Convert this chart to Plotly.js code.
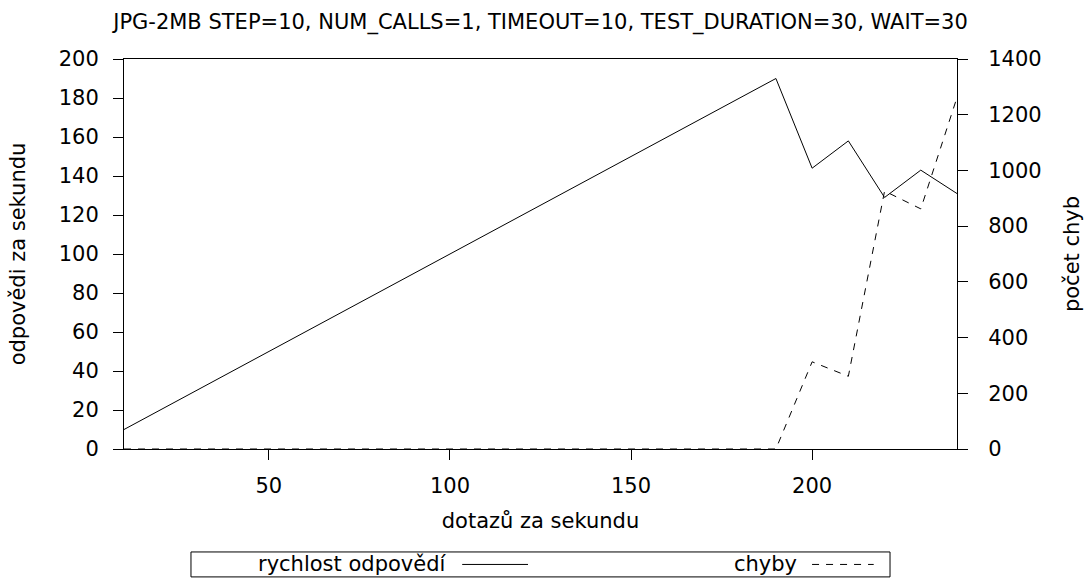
<!DOCTYPE html>
<html>
<head>
<meta charset="utf-8">
<script src="https://cdn.plot.ly/plotly-3.0.1.min.js"></script>
<style>html,body{margin:0;padding:0;background:#fff;}#chart{width:1089px;height:578px;}</style>
</head>
<body>
<div id="chart"></div>
<script>
// Data
const dotazy = [10,20,30,40,50,60,70,80,90,100,110,120,130,140,150,160,170,180,190,200,210,220,230,240];
const rychlost = [10,20,30,40,50,60,70,80,90,100,110,120,130,140,150,160,170,180,190,144,158,129,143,131];
const chyby = [0,0,0,0,0,0,0,0,0,0,0,0,0,0,0,0,0,0,0,313,261,926,862,1262];
const xTicks = [50,100,150,200];
const yTicks = [0,20,40,60,80,100,120,140,160,180,200];
const y2Ticks = [0,200,400,600,800,1000,1200,1400];
const seriesNames = ['rychlost odpovědí','chyby'];
const titleText = 'JPG-2MB STEP=10, NUM_CALLS=1, TIMEOUT=10, TEST_DURATION=30, WAIT=30';

const FONT = 'DejaVu Sans, sans-serif';
const FS = 21;
const DASH = '7px,7px';
const traces = [
  {x: dotazy, y: rychlost, name: seriesNames[0], type: 'scatter', mode: 'lines',
   line: {color: '#000', width: 1}, yaxis: 'y'},
  {x: dotazy, y: chyby, name: seriesNames[1], type: 'scatter', mode: 'lines',
   line: {color: '#000', width: 1, dash: DASH}, yaxis: 'y2'}
];

// legend box geometry (paper coords)
const lgY0 = -0.328, lgY1 = -0.264, lgYm = (lgY0 + lgY1) / 2;

const layout = {
  width: 1089, height: 578,
  margin: {l: 124, r: 132, t: 59, b: 129},
  paper_bgcolor: '#fff', plot_bgcolor: '#fff',
  font: {family: FONT, size: FS, color: '#000'},
  showlegend: false,
  title: {text: titleText, font: {family: FONT, size: FS, color: '#000'}, x: 0.5, xref: 'paper', y: 0.962, yanchor: 'middle'},
  xaxis: {
    range: [10, 240], tickvals: xTicks, ticks: 'outside', ticklen: 10, tickcolor: '#000',
    showline: true, linecolor: '#000', linewidth: 1, mirror: true, showgrid: false, zeroline: false,
    ticklabelstandoff: 8,
    title: {text: 'dotazů za sekundu', font: {family: FONT, size: FS}, standoff: 16}
  },
  yaxis: {
    range: [0, 200], tickvals: yTicks, ticks: 'outside', ticklen: 10, tickcolor: '#000',
    showline: true, linecolor: '#000', linewidth: 1, showgrid: false, zeroline: false,
    ticklabelstandoff: 10,
    title: {text: 'odpovědi za sekundu', font: {family: FONT, size: FS}, standoff: 27}
  },
  yaxis2: {
    range: [0, 1400], tickvals: y2Ticks, ticks: 'outside', ticklen: 10, tickcolor: '#000',
    overlaying: 'y', side: 'right',
    showline: true, linecolor: '#000', linewidth: 1, showgrid: false, zeroline: false,
    ticklabelstandoff: 16,
    title: {text: 'počet chyb', font: {family: FONT, size: FS}, standoff: 23}
  },
  shapes: [
    {type: 'rect', xref: 'paper', yref: 'paper', x0: 0.0804, x1: 0.9196, y0: lgY0, y1: lgY1,
     line: {color: '#000', width: 1}, fillcolor: 'rgba(0,0,0,0)'},
    {type: 'line', xref: 'paper', yref: 'paper', x0: 0.406, x1: 0.485, y0: lgYm, y1: lgYm,
     line: {color: '#000', width: 1}},
    {type: 'line', xref: 'paper', yref: 'paper', x0: 0.826, x1: 0.900, y0: lgYm, y1: lgYm,
     line: {color: '#000', width: 1, dash: DASH}}
  ],
  annotations: [
    {text: seriesNames[0], xref: 'paper', yref: 'paper', x: 0.389, y: lgYm, xanchor: 'right', yanchor: 'middle',
     showarrow: false, font: {family: FONT, size: FS, color: '#000'}},
    {text: seriesNames[1], xref: 'paper', yref: 'paper', x: 0.810, y: lgYm, xanchor: 'right', yanchor: 'middle',
     showarrow: false, font: {family: FONT, size: FS, color: '#000'}}
  ]
};

Plotly.newPlot('chart', traces, layout, {staticPlot: true, displayModeBar: false});
</script>
</body>
</html>
